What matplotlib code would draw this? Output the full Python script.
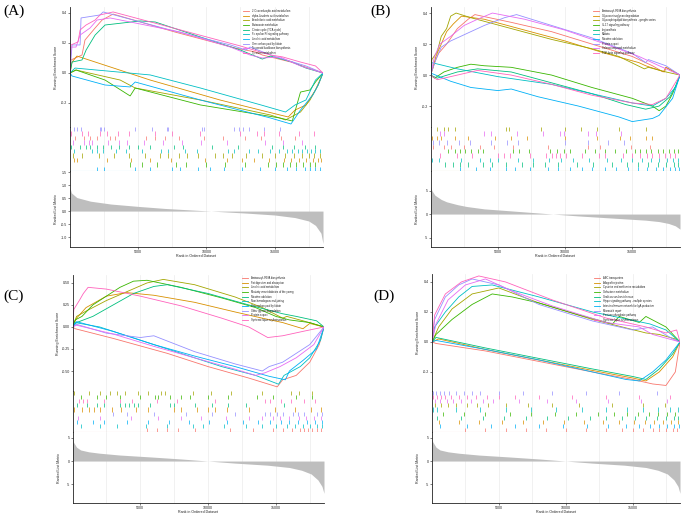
import matplotlib
matplotlib.use("Agg")
import matplotlib.pyplot as plt
import numpy as np
from matplotlib.lines import Line2D

plt.rcParams['font.family'] = ['Liberation Sans', 'DejaVu Sans']

W, H = 685, 514
COLORS = ["#F8766D", "#D89000", "#A3A500", "#39B600", "#00BF7D",
          "#00BFC4", "#00B0F6", "#9590FF", "#E76BF3", "#FF62BC"]
N_GENES = 18550
RANK_TICKS = [5000, 10000, 15000]

# ---------------- Panel A ----------------
A_terms = ["2-Oxocarboxylic acid metabolism", "alpha-Linolenic acid metabolism",
           "Arachidonic acid metabolism", "Butanoate metabolism",
           "Citrate cycle (TCA cycle)", "Fc epsilon RI signaling pathway",
           "Linoleic acid metabolism", "One carbon pool by folate",
           "Terpenoid backbone biosynthesis", "Tyrosine metabolism"]
A_es_x = [
    [0, 0.07, 0.88, 1.1, 1.84, 2.35, 3.16, 7.7, 12.1, 13.6, 14.1, 16.2, 18.55],
    [0, 0.15, 0.51, 5.88, 11.0, 15.4, 16.0, 16.5, 17.3, 18.0, 18.55],
    [0, 0.44, 3.68, 4.78, 9.56, 14.7, 15.8, 16.9, 17.6, 18.2, 18.55],
    [0, 0.44, 2.57, 4.41, 4.78, 9.56, 15.4, 16.3, 16.9, 17.6, 18.0, 18.55],
    [0, 0.15, 0.88, 1.18, 1.84, 2.57, 5.15, 6.25, 9.56, 12.5, 14.1, 14.7, 16.3, 17.3, 18.55],
    [0, 0.37, 5.88, 9.56, 14.0, 15.8, 16.5, 17.3, 18.0, 18.55],
    [0, 0.15, 2.57, 4.41, 4.78, 9.56, 14.7, 16.2, 16.9, 17.8, 18.2, 18.55],
    [0, 0.15, 0.74, 0.81, 2.2, 2.43, 7.35, 11.76, 12.9, 13.2, 15.1, 17.3, 18.55],
    [0, 0.07, 0.44, 0.74, 1.47, 1.98, 2.94, 8.09, 11.76, 13.2, 14.1, 15.4, 16.9, 18.55],
    [0, 0.07, 0.59, 0.74, 1.18, 1.84, 2.2, 3.16, 8.1, 12.5, 14.7, 15.6, 16.9, 18.0, 18.55],
]
A_es_y = [
    [0, 0.087, 0.12, 0.22, 0.30, 0.353, 0.393, 0.273, 0.167, 0.14, 0.12, 0.073, 0],
    [0, 0.073, 0.113, -0.047, -0.18, -0.28, -0.293, -0.247, -0.213, -0.113, 0],
    [0, 0.02, -0.047, -0.10, -0.18, -0.28, -0.313, -0.26, -0.18, -0.08, 0],
    [0, 0.02, -0.047, -0.153, -0.10, -0.213, -0.30, -0.32, -0.127, -0.113, -0.06, 0],
    [0, 0.073, 0.087, 0.153, 0.253, 0.32, 0.347, 0.34, 0.24, 0.153, 0.093, 0.113, 0.073, 0.033, 0],
    [0, 0.033, -0.013, -0.10, -0.213, -0.26, -0.213, -0.18, -0.047, 0],
    [0, -0.02, -0.08, -0.093, -0.06, -0.18, -0.30, -0.34, -0.247, -0.147, -0.08, 0],
    [0, 0.187, 0.187, 0.367, 0.387, 0.407, 0.287, 0.187, 0.153, 0.173, 0.107, 0.047, 0],
    [0, 0.173, 0.173, 0.253, 0.30, 0.353, 0.367, 0.273, 0.173, 0.12, 0.10, 0.107, 0.047, 0],
    [0, 0.187, 0.207, 0.287, 0.32, 0.353, 0.387, 0.407, 0.287, 0.18, 0.12, 0.107, 0.073, 0.047, 0],
]
A_hits = [
    [0.4, 1.0, 1.5, 2.0, 2.9, 3.3, 5.6, 6.2, 7.0, 8.0, 9.8, 11.2, 12.8, 14.0, 15.5, 16.5],
    [0.3, 0.5, 2.7, 4.5, 5.9, 7.4, 9.9, 11.5, 12.6, 13.5, 14.6, 15.7, 16.2, 16.8, 17.3, 17.8, 18.2, 18.4],
    [0.2, 0.9, 2.1, 3.2, 4.3, 5.5, 6.6, 7.2, 8.0, 8.6, 9.4, 10.6, 11.2, 11.9, 12.9, 14.1, 15.0, 15.8, 16.4, 17.0, 17.5, 17.9, 18.3],
    [4.4, 5.3, 6.4, 7.8, 8.5, 10.0, 11.4, 12.8, 14.5, 15.1, 15.6, 16.1, 16.6, 17.1, 17.6, 18.0],
    [0.1, 0.7, 1.2, 1.5, 2.0, 2.4, 3.0, 3.6, 4.3, 5.0, 5.9, 7.6, 8.3, 10.4, 12.3, 14.8, 15.6, 16.4, 17.2, 18.0],
    [0.3, 1.6, 2.0, 2.4, 3.4, 4.1, 5.3, 6.7, 7.2, 8.4, 9.3, 11.6, 12.0, 13.1, 13.8, 14.7, 15.3, 15.9, 16.3, 16.7, 17.0, 17.4, 17.7, 18.0, 18.3],
    [2.0, 2.5, 4.8, 5.9, 7.5, 8.1, 9.4, 10.3, 11.3, 12.6, 13.9, 15.0, 15.9, 16.6, 17.2, 17.6, 18.0, 18.3],
    [0.3, 0.5, 0.8, 2.2, 2.3, 2.5, 4.8, 6.0, 7.1, 7.2, 9.7, 9.8, 12.0, 12.4, 12.7, 13.1, 14.2, 15.4],
    [0.2, 1.0, 1.4, 1.6, 2.8, 3.6, 4.2, 5.4, 6.8, 8.2, 9.6, 11.5, 14.3, 15.6, 17.0],
    [0.1, 0.9, 1.3, 2.2, 2.7, 3.5, 4.3, 6.2, 7.5, 9.5, 12.5, 13.7, 14.2, 15.3, 16.8, 17.9],
]
A_hit_rows = [7, 9, 0, 8, 4, 5, 2, 1, 3, 6]   # term index, top row first
A_rank_x = [0, 0.1, 0.5, 1.5, 3.0, 5.0, 7.0, 9.0, 11.0, 13.0, 15.0, 16.5, 17.5, 18.0, 18.4, 18.55]
A_rank_y = [0.9, 0.7, 0.52, 0.38, 0.27, 0.18, 0.10, 0.04, -0.02, -0.08, -0.15, -0.25, -0.38, -0.55, -0.85, -1.25]
A_es_ticks = [-0.2, 0.0, 0.2, 0.4]
A_es_labels = ["-0.2", "0.0", "0.2", "0.4"]
A_rank_ticks = [-1.0, -0.5, 0.0, 0.5, 1.0, 1.5]
A_rank_labels = ["-1.0", "-0.5", "0.0", "0.5", "1.0", "1.5"]

# ---------------- Panel B ----------------
B_terms = ["Aminoacyl-tRNA biosynthesis", "Glycosaminoglycan degradation",
           "Glycosphingolipid biosynthesis - ganglio series", "IL-17 signaling pathway",
           "Legionellosis", "Malaria", "Nicotine addiction", "Protein export",
           "Selenocompound metabolism", "TGF-beta signaling pathway"]
B_es_x = [
    [0, 0.3, 0.6, 1.2, 2.0, 2.8, 3.3, 6.0, 9.0, 12.0, 15.0, 16.5, 17.3, 17.5, 18.55],
    [0, 0.2, 0.4, 0.8, 1.2, 1.7, 2.3, 4.0, 7.0, 10.0, 13.0, 15.5, 16.0, 17.4, 17.5, 18.55],
    [0, 0.1, 0.5, 0.8, 1.2, 1.5, 1.9, 3.0, 6.0, 9.0, 12.0, 14.0, 15.9, 16.2, 17.5, 18.55],
    [0, 0.3, 1.0, 2.0, 3.0, 4.0, 6.0, 9.0, 12.0, 15.0, 16.5, 17.0, 17.5, 18.0, 18.55],
    [0, 0.5, 2.0, 3.5, 6.0, 9.0, 12.0, 14.5, 16.0, 17.0, 17.8, 18.3, 18.55],
    [0, 0.1, 2.0, 5.0, 9.0, 12.0, 15.0, 16.5, 17.5, 18.2, 18.55],
    [0, 0.1, 1.5, 3.0, 5.0, 6.0, 8.0, 11.0, 14.0, 15.0, 16.5, 17.0, 18.0, 18.55],
    [0, 0.4, 0.8, 1.5, 2.5, 4.0, 5.5, 6.4, 9.0, 12.0, 15.0, 16.0, 16.2, 17.5, 18.55],
    [0, 0.3, 0.7, 1.5, 2.5, 3.5, 4.6, 7.0, 10.0, 13.0, 15.5, 17.0, 18.55],
    [0, 0.5, 2.0, 3.5, 6.0, 9.0, 12.0, 15.0, 16.5, 17.5, 18.55],
]
B_es_y = [
    [0, 0.08, 0.14, 0.20, 0.30, 0.36, 0.39, 0.34, 0.28, 0.20, 0.12, 0.06, 0.02, 0.05, 0],
    [0, 0.05, 0.12, 0.20, 0.28, 0.33, 0.38, 0.36, 0.29, 0.22, 0.14, 0.08, 0.06, 0.02, 0.05, 0],
    [0, 0.10, 0.15, 0.25, 0.30, 0.38, 0.40, 0.37, 0.30, 0.23, 0.17, 0.12, 0.04, 0.05, 0.02, 0],
    [0, -0.02, 0.02, 0.05, 0.07, 0.06, 0.05, 0.0, -0.08, -0.15, -0.20, -0.23, -0.20, -0.12, 0],
    [0, -0.02, 0.02, 0.04, 0.02, -0.05, -0.12, -0.19, -0.22, -0.20, -0.14, -0.06, 0],
    [0, 0.08, 0.04, -0.01, -0.06, -0.12, -0.18, -0.20, -0.15, -0.08, 0],
    [0, 0.01, -0.04, -0.08, -0.10, -0.09, -0.14, -0.20, -0.27, -0.30, -0.28, -0.26, -0.15, 0],
    [0, 0.10, 0.18, 0.22, 0.26, 0.32, 0.37, 0.39, 0.32, 0.24, 0.14, 0.08, 0.10, 0.06, 0],
    [0, 0.12, 0.20, 0.25, 0.32, 0.36, 0.40, 0.36, 0.29, 0.20, 0.12, 0.06, 0],
    [0, -0.03, 0.0, 0.03, 0.0, -0.06, -0.13, -0.18, -0.19, -0.15, 0],
]
B_hits = [
    [0.2, 1.0, 1.5, 2.5, 3.7, 4.7, 6.1, 8.7, 11.7, 12.6, 14.9, 16.3],
    [0.1, 0.5, 0.8, 1.8, 2.8, 4.8, 6.0, 7.2, 10.0, 12.4, 14.1, 14.8, 16.0, 16.5],
    [0.5, 1.0, 1.3, 1.8, 5.6, 5.8, 8.2, 10.0, 11.2, 12.4, 14.0, 16.0],
    [1.3, 1.8, 2.2, 2.6, 3.0, 3.5, 3.9, 6.1, 6.6, 7.3, 8.9, 9.4, 9.9, 10.4, 11.5, 12.2, 13.0, 13.7, 14.5, 15.2, 15.6, 16.0, 16.4, 16.9, 17.3, 17.7, 18.1, 18.4],
    [1.1, 1.7, 2.2, 2.8, 3.9, 4.6, 5.6, 6.8, 7.6, 8.5, 9.5, 10.9, 12.1, 13.5, 14.6, 15.4, 16.2, 16.9, 17.5, 18.1, 18.4],
    [0.1, 0.6, 2.3, 3.7, 4.4, 5.0, 6.5, 7.6, 8.8, 9.7, 10.6, 11.8, 13.1, 14.2, 15.0, 15.7, 16.4, 17.0, 17.6, 18.0, 18.4],
    [2.2, 3.4, 4.4, 5.6, 6.3, 7.4, 8.7, 9.5, 10.4, 11.3, 12.0, 13.0, 13.8, 14.7, 15.4, 16.1, 16.8, 17.3, 17.8, 18.2, 18.5],
    [0.2, 0.6, 1.2, 2.1, 2.9, 4.5, 5.7, 6.5, 10.0, 11.7, 13.2, 14.4],
    [0.7, 1.0, 4.0, 4.5, 6.4, 8.4, 9.6, 9.9, 11.7, 12.3, 14.2],
    [0.7, 2.0, 3.1, 5.0, 5.5, 5.9, 7.4, 8.6, 9.0, 9.3, 9.6, 10.1, 11.3, 12.5, 13.0, 14.3, 15.0, 15.6, 16.1, 16.5, 17.0, 17.4, 17.8, 18.2],
]
B_hit_rows = [2, 8, 1, 7, 0, 3, 9, 5, 4, 6]
B_rank_x = [0, 0.1, 0.33, 0.8, 1.2, 2.0, 2.7, 4.0, 6.1, 9.1, 11.0, 13.5, 16.0, 17.0, 17.7, 18.2, 18.55]
B_rank_y = [5.8, 5.0, 4.0, 3.1, 2.6, 2.0, 1.6, 1.1, 0.65, 0.0, -0.4, -0.85, -1.3, -1.6, -2.0, -2.5, -3.2]
B_es_ticks = [-0.2, 0.0, 0.2, 0.4]
B_es_labels = ["-0.2", "0.0", "0.2", "0.4"]
B_rank_ticks = [-5, 0, 5]
B_rank_labels = ["-5", "0", "5"]

# ---------------- Panel C ----------------
C_terms = ["Aminoacyl-tRNA biosynthesis", "Fat digestion and absorption",
           "Linoleic acid metabolism", "Maturity onset diabetes of the young",
           "Nicotine addiction", "Non-homologous end-joining",
           "One carbon pool by folate", "Other glycan degradation",
           "Protein export", "Systemic lupus erythematosus"]
C_es_x = [
    [0, 0.2, 3.0, 7.0, 10.0, 13.0, 15.1, 15.5, 16.5, 17.5, 18.2, 18.55],
    [0, 0.3, 1.0, 2.5, 4.0, 6.0, 9.0, 12.0, 14.0, 15.5, 17.0, 17.5, 18.55],
    [0, 0.3, 1.0, 2.5, 4.0, 5.5, 6.7, 9.0, 12.0, 14.0, 15.5, 15.8, 17.0, 18.55],
    [0, 0.2, 0.7, 1.5, 2.5, 3.5, 4.5, 5.5, 8.0, 11.0, 13.5, 15.0, 16.0, 17.5, 18.55],
    [0, 0.3, 1.5, 3.0, 4.5, 6.0, 7.0, 10.0, 13.0, 15.5, 16.5, 18.0, 18.55],
    [0, 0.2, 2.0, 5.0, 8.0, 11.0, 13.5, 15.2, 15.6, 16.8, 17.5, 18.3, 18.55],
    [0, 0.3, 3.0, 6.0, 9.0, 12.0, 14.5, 15.7, 16.0, 17.0, 18.0, 18.55],
    [0, 0.3, 2.5, 5.0, 6.0, 9.0, 12.0, 14.0, 14.5, 15.5, 16.5, 17.5, 18.55],
    [0, 0.3, 3.0, 6.0, 9.0, 12.0, 13.5, 14.2, 15.3, 16.5, 17.8, 18.55],
    [0, 0.1, 0.5, 0.8, 1.15, 2.5, 5.0, 8.0, 11.0, 13.0, 14.4, 15.5, 17.0, 18.55],
]
C_es_y = [
    [0, -0.02, -0.13, -0.30, -0.45, -0.58, -0.68, -0.60, -0.55, -0.40, -0.20, 0],
    [0, 0.10, 0.22, 0.35, 0.39, 0.36, 0.28, 0.17, 0.10, 0.05, -0.02, 0.04, 0],
    [0, 0.12, 0.18, 0.30, 0.40, 0.50, 0.54, 0.48, 0.34, 0.22, 0.10, 0.12, 0.07, 0],
    [0, 0.08, 0.12, 0.25, 0.35, 0.45, 0.52, 0.53, 0.45, 0.33, 0.22, 0.12, 0.08, 0.05, 0],
    [0, 0.05, 0.12, 0.25, 0.38, 0.46, 0.48, 0.38, 0.25, 0.15, 0.12, 0.07, 0],
    [0, 0.05, 0.0, -0.15, -0.30, -0.45, -0.55, -0.65, -0.55, -0.45, -0.35, -0.15, 0],
    [0, 0.06, -0.05, -0.20, -0.33, -0.45, -0.56, -0.60, -0.50, -0.38, -0.25, 0],
    [0, 0.03, -0.07, -0.12, -0.10, -0.28, -0.42, -0.50, -0.45, -0.40, -0.30, -0.20, 0],
    [0, 0.02, -0.08, -0.22, -0.35, -0.48, -0.55, -0.52, -0.45, -0.35, -0.20, 0],
    [0, 0.20, 0.30, 0.38, 0.45, 0.43, 0.35, 0.24, 0.10, 0.0, -0.12, -0.10, -0.05, 0],
]
C_hits = [
    [5.5, 6.2, 7.0, 7.8, 9.0, 11.6, 13.3, 14.8, 15.5, 16.2, 16.8, 17.1, 17.4, 17.7, 18.0, 18.3],
    [0.1, 0.7, 1.2, 1.6, 2.0, 2.9, 3.6, 4.7, 5.6, 7.5, 8.0, 9.2, 10.0, 10.5, 11.4, 13.0, 14.9, 16.4, 17.6, 18.3],
    [0.1, 1.2, 2.0, 2.8, 3.3, 3.9, 4.8, 5.6, 6.5, 6.8, 8.9, 10.2, 11.7, 14.0, 16.1, 16.7, 17.7],
    [0.6, 1.8, 2.5, 3.5, 5.0, 6.1, 6.3, 7.2, 8.0, 8.7, 10.0, 11.5, 13.6, 14.8, 16.5, 17.7],
    [0.3, 1.1, 1.8, 2.3, 3.5, 3.9, 4.2, 4.5, 4.8, 5.7, 7.2, 7.5, 9.0, 10.3, 11.5, 12.8, 15.6],
    [0.6, 2.0, 3.3, 5.4, 7.0, 8.9, 9.6, 11.2, 12.8, 14.0, 15.0, 15.8, 16.4, 17.0, 17.5, 18.0, 18.4],
    [0.3, 1.5, 2.3, 4.0, 5.6, 7.1, 8.6, 10.1, 11.4, 12.6, 13.7, 14.6, 15.4, 16.0, 16.6, 17.3, 17.9, 18.4],
    [3.0, 4.0, 6.0, 8.4, 10.3, 12.0, 14.2, 14.6, 15.1, 15.5, 16.3, 16.6, 17.1, 18.0, 18.4],
    [0.4, 2.0, 4.3, 6.3, 8.0, 9.5, 11.3, 13.0, 14.0, 14.8, 15.3, 16.0, 16.7, 17.2, 17.8, 18.3],
    [0.5, 0.8, 1.1, 2.3, 3.5, 4.4, 6.2, 7.7, 10.5, 14.2, 14.6, 15.4, 16.1, 17.1, 17.9],
]
C_hit_rows = [2, 3, 9, 4, 1, 7, 8, 6, 5, 0]
C_rank_x = [0, 0.05, 0.3, 0.6, 1.2, 2.0, 3.5, 5.7, 8.0, 10.0, 12.0, 14.4, 16.0, 16.9, 17.6, 18.1, 18.4, 18.55]
C_rank_y = [5.0, 4.2, 3.0, 2.4, 2.0, 1.7, 1.3, 0.9, 0.45, 0.0, -0.45, -0.9, -1.4, -2.0, -2.8, -4.1, -5.5, -7.0]
C_es_ticks = [-0.50, -0.25, 0.0, 0.25, 0.50]
C_es_labels = ["-0.50", "-0.25", "0.00", "0.25", "0.50"]
C_rank_ticks = [-5, 0, 5]
C_rank_labels = ["-5", "0", "5"]

# ---------------- Panel D ----------------
D_terms = ["ABC transporters", "Allograft rejection",
           "Cysteine and methionine metabolism", "Galactose metabolism",
           "Graft-versus-host disease", "Hippo signaling pathway - multiple species",
           "Intestinal immune network for IgA production", "Mismatch repair",
           "Pentose phosphate pathway", "Systemic lupus erythematosus"]
D_es_x = [
    [0, 0.3, 4.0, 8.0, 12.0, 15.0, 16.5, 17.5, 18.2, 18.55],
    [0, 0.5, 4.0, 8.0, 12.0, 15.0, 16.0, 17.0, 18.0, 18.55],
    [0, 0.5, 1.5, 3.0, 5.0, 8.0, 12.0, 16.0, 17.0, 18.2, 18.55],
    [0, 0.3, 1.5, 3.0, 4.5, 6.0, 8.0, 11.0, 13.5, 14.0, 15.5, 16.0, 17.5, 18.55],
    [0, 0.3, 4.0, 8.0, 12.0, 15.0, 16.0, 17.0, 18.0, 18.55],
    [0, 0.2, 1.0, 2.0, 3.0, 4.5, 8.0, 12.0, 16.3, 17.5, 18.55],
    [0, 0.3, 4.0, 8.0, 12.0, 14.5, 15.5, 16.5, 17.5, 18.55],
    [0, 0.2, 1.0, 2.0, 3.0, 5.0, 8.0, 12.0, 15.0, 16.5, 18.0, 18.55],
    [0, 0.3, 1.2, 2.5, 4.0, 6.0, 9.0, 13.0, 15.5, 16.5, 18.55],
    [0, 0.2, 1.0, 2.2, 3.5, 5.5, 9.0, 13.0, 16.0, 17.5, 18.3, 18.55],
]
D_es_y = [
    [0, -0.01, -0.06, -0.13, -0.20, -0.25, -0.28, -0.29, -0.20, 0],
    [0, 0.02, -0.05, -0.12, -0.19, -0.24, -0.26, -0.20, -0.10, 0],
    [0, 0.10, 0.22, 0.32, 0.36, 0.26, 0.15, 0.06, 0.05, 0.02, 0],
    [0, 0.05, 0.15, 0.25, 0.32, 0.30, 0.26, 0.18, 0.12, 0.17, 0.13, 0.17, 0.10, 0],
    [0, 0.03, -0.04, -0.11, -0.18, -0.23, -0.25, -0.18, -0.08, 0],
    [0, 0.10, 0.20, 0.30, 0.37, 0.38, 0.30, 0.20, 0.12, 0.08, 0],
    [0, 0.01, -0.05, -0.12, -0.20, -0.25, -0.26, -0.20, -0.12, 0],
    [0, 0.15, 0.30, 0.38, 0.42, 0.38, 0.25, 0.14, 0.08, 0.10, 0.02, 0],
    [0, 0.12, 0.28, 0.38, 0.42, 0.34, 0.24, 0.13, 0.10, 0.05, 0],
    [0, 0.18, 0.32, 0.40, 0.44, 0.40, 0.28, 0.16, 0.10, 0.06, 0.08, 0],
]
D_hits = [
    [2.5, 4.0, 5.5, 7.0, 8.5, 10.0, 11.5, 13.0, 14.2, 15.0, 15.8, 16.5, 17.0, 17.5, 18.0, 18.3],
    [0.5, 2.0, 3.5, 5.2, 6.8, 8.3, 9.9, 11.4, 12.8, 14.0, 15.1, 15.9, 16.6, 17.3, 17.9, 18.4],
    [0.2, 0.7, 1.2, 1.8, 2.6, 3.4, 4.2, 5.5, 7.2, 9.0, 11.0, 13.5, 15.8, 17.4],
    [0.8, 2.4, 4.0, 5.8, 7.4, 9.2, 10.8, 12.4, 13.6, 14.6, 15.4, 16.2, 16.9, 17.6, 18.2],
    [0.4, 2.2, 3.8, 5.4, 7.0, 8.6, 10.2, 11.8, 13.0, 14.2, 15.2, 16.0, 16.8, 17.5, 18.1, 18.4],
    [0.1, 0.4, 1.8, 3.6, 5.5, 7.4, 9.3, 11.2, 13.0, 14.6, 15.8, 16.9, 17.8, 18.4],
    [0.6, 2.6, 4.4, 6.2, 8.0, 9.8, 11.6, 13.2, 14.5, 15.5, 16.3, 17.0, 17.6, 18.1, 18.5],
    [0.1, 0.3, 0.6, 0.9, 1.3, 1.8, 2.4, 3.0, 3.6, 5.0, 6.8, 9.0, 11.5, 14.0, 16.8],
    [0.2, 0.6, 1.1, 1.6, 2.2, 2.9, 3.8, 4.6, 6.5, 8.6, 10.8, 13.2, 15.6, 17.6],
    [0.1, 0.4, 0.7, 1.0, 1.4, 2.0, 2.6, 3.3, 4.1, 5.0, 6.2, 8.0, 10.5, 13.0, 15.5, 17.8],
]
D_hit_rows = [7, 9, 8, 2, 5, 3, 4, 1, 6, 0]
D_rank_x = [0, 0.05, 0.3, 0.6, 1.2, 2.0, 3.5, 5.7, 8.0, 10.0, 12.0, 14.4, 16.0, 16.9, 17.6, 18.1, 18.4, 18.55]
D_rank_y = [5.0, 4.2, 3.0, 2.4, 2.0, 1.7, 1.3, 0.9, 0.45, 0.0, -0.45, -0.9, -1.4, -2.0, -2.8, -4.1, -5.5, -7.0]
D_es_ticks = [-0.2, 0.0, 0.2, 0.4]
D_es_labels = ["-0.2", "0.0", "0.2", "0.4"]
D_rank_ticks = [-5, 0, 5]
D_rank_labels = ["-5", "0", "5"]

# ---------------- layout (pixels) ----------------
LAYOUT = {
    "A": dict(l=70, r=323, t=7, e=127, h=171, b=247, es_lim=(-0.36, 0.44), rk_lim=(-1.38, 1.54),
              tag=(3, 11), leg=(243, 11), line_col=6),
    "B": dict(l=430.5, r=680, t=7, e=127, h=171, b=247, es_lim=(-0.335, 0.439), rk_lim=(-7.0, 9.15),
              tag=(370, 11), leg=(593, 11), line_col=2),
    "C": dict(l=72.5, r=324, t=275, e=391, h=432, b=503, es_lim=(-0.727, 0.59), rk_lim=(-9.1, 6.3),
              tag=(3, 296), leg=(242, 278), line_col=0),
    "D": dict(l=432, r=680, t=274, e=391, h=432, b=503, es_lim=(-0.327, 0.453), rk_lim=(-9.1, 6.3),
              tag=(373, 296), leg=(594, 278), line_col=0),
}

PANELS = {
    "A": (A_terms, A_es_x, A_es_y, A_hits, A_hit_rows, A_rank_x, A_rank_y,
          A_es_ticks, A_es_labels, A_rank_ticks, A_rank_labels),
    "B": (B_terms, B_es_x, B_es_y, B_hits, B_hit_rows, B_rank_x, B_rank_y,
          B_es_ticks, B_es_labels, B_rank_ticks, B_rank_labels),
    "C": (C_terms, C_es_x, C_es_y, C_hits, C_hit_rows, C_rank_x, C_rank_y,
          C_es_ticks, C_es_labels, C_rank_ticks, C_rank_labels),
    "D": (D_terms, D_es_x, D_es_y, D_hits, D_hit_rows, D_rank_x, D_rank_y,
          D_es_ticks, D_es_labels, D_rank_ticks, D_rank_labels),
}

fig = plt.figure(figsize=(W / 100, H / 100), dpi=100)
fig.patch.set_facecolor("white")

GRID_COL = "#ebebeb"
AX_COL = "#222222"
TICK_FS = 2.6
TITLE_FS = 2.6
LEG_FS = 1.9


def px_axes(l, t, r, b):
    return fig.add_axes([l / W, 1 - b / H, (r - l) / W, (b - t) / H])


def style(ax, left=True, bottom=False):
    for s in ["top", "right"]:
        ax.spines[s].set_visible(False)
    ax.spines["left"].set_visible(left)
    ax.spines["bottom"].set_visible(bottom)
    for s in ["left", "bottom"]:
        ax.spines[s].set_linewidth(0.6)
        ax.spines[s].set_color(AX_COL)
    ax.set_xlim(0, N_GENES)
    for g in np.arange(2500, N_GENES, 2500):
        ax.axvline(g, color=GRID_COL, lw=0.5, zorder=0)
    ax.tick_params(axis="both", labelsize=TICK_FS, length=1.2, width=0.4, pad=0.8,
                   colors=AX_COL)
    ax.set_facecolor("none")


for key, lay in LAYOUT.items():
    (terms, es_x, es_y, hits, hit_rows, rk_x, rk_y,
     es_t, es_l, rk_t, rk_l) = PANELS[key]

    # running enrichment score
    ax1 = px_axes(lay["l"], lay["t"], lay["r"], lay["e"])
    style(ax1)
    for i in range(len(terms)):
        ax1.plot(np.array(es_x[i]) * 1000, es_y[i], color=COLORS[i], lw=0.6,
                 solid_joinstyle="miter")
    ax1.set_ylim(*lay["es_lim"])
    ax1.set_xticks([])
    ax1.set_yticks(es_t)
    ax1.set_yticklabels(es_l)

    # gene hits
    ax2 = px_axes(lay["l"], lay["e"], lay["r"], lay["h"])
    style(ax2)
    n = len(hit_rows)
    for row, ti in enumerate(hit_rows):
        ax2.vlines(np.array(hits[ti]) * 1000, n - row - 1, n - row,
                   color=COLORS[ti], lw=0.6, alpha=0.85)
    ax2.axhline(0, color=COLORS[lay["line_col"]], lw=0.8, alpha=0.45)
    ax2.set_ylim(0, n)
    ax2.set_xticks([])
    ax2.set_yticks([])

    # ranked list metric
    ax3 = px_axes(lay["l"], lay["h"], lay["r"], lay["b"])
    style(ax3, bottom=True)
    ax3.fill_between(np.array(rk_x) * 1000, rk_y, 0, color="#bebebe", lw=0, zorder=2)
    ax3.set_ylim(*lay["rk_lim"])
    ax3.set_xticks(RANK_TICKS)
    ax3.set_xticklabels([str(v) for v in RANK_TICKS])
    ax3.set_yticks(rk_t)
    ax3.set_yticklabels(rk_l)
    ax3.set_xlabel("Rank in Ordered Dataset", fontsize=TITLE_FS, labelpad=0.3, color=AX_COL)

    # y titles
    yl_x = lay["l"] - 14
    fig.text(yl_x / W, 1 - ((lay["t"] + lay["e"]) / 2) / H, "Running Enrichment Score",
             rotation=90, fontsize=TITLE_FS, ha="center", va="center", color=AX_COL)
    fig.text(yl_x / W, 1 - ((lay["h"] + lay["b"]) / 2) / H, "Ranked List Metric",
             rotation=90, fontsize=TITLE_FS, ha="center", va="center", color=AX_COL)

    # legend
    lx, ly = lay["leg"]
    step = 4.65
    for i, term in enumerate(terms):
        yy = 1 - (ly + i * step) / H
        fig.add_artist(Line2D([lx / W, (lx + 6) / W], [yy, yy], color=COLORS[i], lw=0.6))
        fig.text((lx + 9) / W, yy, term, fontsize=LEG_FS, va="center", ha="left",
                 color="#222222")

    # panel tag
    tx, ty = lay["tag"]
    fig.text(tx / W, 1 - ty / H, "(%s)" % key, fontsize=11, va="center", ha="left",
             family=["Liberation Serif", "DejaVu Serif"])

fig.savefig("out.png", dpi=100, facecolor="white")
